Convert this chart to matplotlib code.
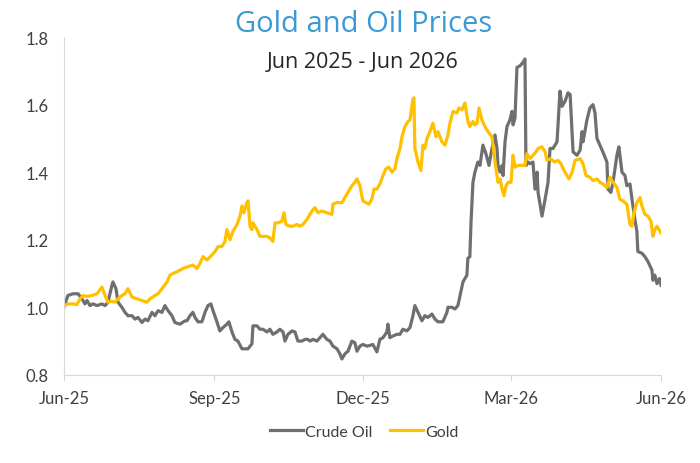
import pandas as pd
import matplotlib
matplotlib.use("Agg")
import matplotlib.pyplot as plt
import matplotlib.dates as mdates

# days after 1 Jun 2025 and index values (start = 1.0)
oil_days = [0, 2.4, 5.5, 8.6, 11.0, 12.8, 14.1, 15.9, 17.7, 20.2, 23.2, 25.1, 26.9,
            29.3, 29.9, 31.8, 33.0, 35.4, 37.3, 39.1, 41.6, 43.4, 45.2, 47.7, 49.5,
            51.3, 53.8, 55.6, 57.5, 59.9, 61.7, 63.6, 66.0, 67.8, 70.9, 74.0, 75.2,
            77.0, 78.8, 80.1, 81.9, 84.3, 86.2, 88.0, 89.8, 91.1, 93.5, 95.3, 97.2,
            99.6, 100.8, 102.7, 104.5, 106.3, 108.8, 110.6, 112.5, 114.9, 115.5,
            118.0, 119.8, 121.6, 124.1, 125.9, 127.7, 130.2, 132.0, 133.9, 135.1,
            136.9, 139.4, 141.2, 143.0, 145.5, 147.3, 149.1, 150.4, 152.2, 154.6,
            156.5, 158.3, 160.7, 162.6, 164.4, 166.9, 168.7, 169.9, 171.7, 173.6,
            176.0, 177.8, 179.1, 180.9, 182.7, 185.2, 187.0, 188.8, 191.3, 193.1,
            195.0, 197.4, 198.0, 199.2, 201.1, 203.5, 205.4, 207.2, 209.6, 211.5,
            213.3, 214.5, 216.4, 218.8, 220.6, 222.5, 224.9, 226.8, 228.6, 231.6,
            234.1, 234.7, 237.1, 239.0, 240.8, 242.6, 243.9, 246.3, 246.9, 248.1,
            248.8, 250.0, 251.2, 253.0, 254.3, 256.1, 257.9, 259.8, 261.6, 263.5,
            264.7, 265.3, 266.6, 267.8, 268.4, 269.6, 270.8, 272.6, 273.9, 274.5,
            275.7, 276.9, 278.8, 280.6, 281.8, 282.4, 283.7, 284.9, 286.7, 287.9,
            289.2, 289.8, 292.2, 294.1, 295.9, 297.1, 298.9, 301.4, 303.2, 304.5,
            306.3, 308.1, 309.4, 311.2, 313.6, 315.5, 316.7, 317.3, 319.7, 321.5,
            323.4, 324.6, 325.8, 327.6, 329.4, 331.9, 332.5, 334.3, 335.6, 338.0,
            339.2, 341.1, 342.9, 344.1, 346.0, 347.2, 349.0, 350.2, 350.8, 353.3,
            355.1, 357.0, 359.4, 360.0, 361.2, 362.5, 364.0, 365.0]
oil = [1.00, 1.035, 1.04, 1.04, 1.025, 1.01, 1.02, 1.005, 1.01, 1.005, 1.01, 1.005, 1.015,
       1.065, 1.075, 1.055, 1.015, 1.0, 0.985, 0.975, 0.975, 0.965, 0.97, 0.955, 0.965,
       0.96, 0.985, 0.975, 0.99, 0.985, 1.005, 0.99, 0.975, 0.955, 0.95, 0.96, 0.96,
       0.975, 0.985, 0.97, 0.957, 0.957, 0.985, 1.005, 1.01, 0.99, 0.957, 0.93, 0.94,
       0.95, 0.957, 0.927, 0.905, 0.90, 0.877, 0.877, 0.877, 0.892, 0.945,
       0.945, 0.935, 0.935, 0.927, 0.935, 0.92, 0.927, 0.935, 0.927, 0.90,
       0.92, 0.93, 0.927, 0.90, 0.90, 0.905, 0.905, 0.90, 0.905, 0.90,
       0.91, 0.92, 0.905, 0.90, 0.885, 0.877, 0.862, 0.847, 0.862, 0.87,
       0.90, 0.895, 0.87, 0.885, 0.89, 0.885, 0.887, 0.89, 0.868, 0.905,
       0.91, 0.927, 0.95, 0.91, 0.915, 0.92, 0.92, 0.935, 0.93, 0.94,
       0.975, 1.005, 0.985, 0.96, 0.975, 0.97, 0.98, 0.965, 0.957, 0.957,
       0.985, 1.00, 1.00, 0.995, 1.005, 1.045, 1.075, 1.095, 1.145, 1.15,
       1.25, 1.37, 1.40, 1.43, 1.42, 1.48, 1.455, 1.42, 1.47, 1.51,
       1.47, 1.42, 1.40, 1.42, 1.39, 1.49, 1.535, 1.555, 1.58, 1.54,
       1.56, 1.71, 1.715, 1.725, 1.735, 1.42, 1.43, 1.425, 1.43, 1.35,
       1.40, 1.34, 1.27, 1.32, 1.37, 1.47, 1.47, 1.49, 1.64, 1.595,
       1.61, 1.635, 1.63, 1.46, 1.45, 1.465, 1.52, 1.49, 1.555, 1.59,
       1.60, 1.575, 1.50, 1.48, 1.46, 1.43, 1.35, 1.34, 1.37, 1.45,
       1.475, 1.40, 1.39, 1.36, 1.365, 1.32, 1.26, 1.225, 1.165, 1.16,
       1.15, 1.135, 1.11, 1.08, 1.095, 1.07, 1.085, 1.065]

gold_days = [0, 0.6, 2.4, 5.5, 7.9, 9.8, 11.6, 14.1, 17.1, 20.2, 23.2, 25.1, 26.9,
             29.3, 31.2, 33.0, 35.4, 37.3, 39.1, 41.6, 44.6, 47.7, 50.7, 52.6, 55.6,
             57.5, 59.9, 63.0, 64.8, 66.6, 69.1, 70.9, 72.7, 75.8, 78.8, 81.3, 83.1,
             85.0, 87.4, 90.5, 92.3, 94.2, 96.6, 98.4, 99.6, 101.5, 103.3, 105.8,
             107.6, 108.8, 110.0, 111.8, 112.5, 113.7, 114.9, 115.5, 118.0, 119.8,
             121.6, 124.1, 125.9, 127.7, 129.0, 130.8, 133.2, 134.5, 135.7, 138.1,
             140.0, 142.4, 144.2, 146.1, 148.5, 151.6, 153.4, 155.2, 157.7, 160.7,
             163.8, 164.4, 166.9, 169.9, 171.7, 173.6, 176.0, 177.8, 179.1, 180.9,
             182.7, 184.6, 186.4, 188.2, 189.5, 191.3, 193.1, 195.0, 196.8, 198.6,
             200.5, 202.3, 203.5, 205.4, 206.6, 208.4, 210.3, 211.5, 213.3, 213.9,
             214.5, 216.4, 218.2, 219.4, 220.6, 221.9, 223.7, 225.5, 227.4, 228.6,
             231.0, 232.9, 234.7, 235.9, 237.8, 240.2, 241.4, 243.3, 245.1, 246.9,
             248.1, 250.0, 251.2, 252.5, 253.7, 255.5, 257.3, 259.2, 261.6, 263.5,
             265.3, 266.6, 267.8, 269.0, 270.2, 271.5, 273.3, 274.5, 275.7, 277.6,
             280.0, 281.8, 283.0, 284.9, 286.7, 288.5, 289.8, 292.2, 294.1, 295.3,
             297.1, 300.1, 302.0, 303.8, 305.7, 307.5, 308.7, 310.6, 312.4, 315.5,
             317.3, 319.1, 321.5, 323.4, 325.8, 327.6, 329.4, 331.9, 333.7, 335.6,
             338.0, 339.8, 341.7, 344.1, 344.7, 346.0, 347.2, 348.4, 350.2, 352.1,
             353.3, 355.1, 357.0, 358.8, 360.0, 361.2, 362.5, 364.3, 365.0]
gold = [1.00, 1.005, 1.01, 1.01, 1.008, 1.025, 1.035, 1.032, 1.035, 1.04, 1.06, 1.035, 1.015,
        1.018, 1.015, 1.025, 1.035, 1.04, 1.055, 1.03, 1.025, 1.02, 1.015, 1.025, 1.035,
        1.04, 1.055, 1.075, 1.095, 1.10, 1.105, 1.11, 1.115, 1.12, 1.125, 1.115, 1.13,
        1.15, 1.14, 1.155, 1.165, 1.18, 1.18, 1.195, 1.23, 1.20, 1.225, 1.245,
        1.27, 1.30, 1.28, 1.31, 1.315, 1.24, 1.23, 1.25, 1.23, 1.21,
        1.21, 1.21, 1.205, 1.195, 1.25, 1.25, 1.255, 1.28, 1.245, 1.24,
        1.24, 1.245, 1.24, 1.245, 1.26, 1.285, 1.295, 1.28, 1.285, 1.28,
        1.275, 1.305, 1.31, 1.31, 1.325, 1.34, 1.36, 1.37, 1.38, 1.36,
        1.315, 1.31, 1.305, 1.32, 1.35, 1.35, 1.365, 1.39, 1.41, 1.415,
        1.40, 1.41, 1.44, 1.47, 1.505, 1.535, 1.55, 1.555, 1.615, 1.62,
        1.47, 1.43, 1.405, 1.48, 1.47, 1.50, 1.52, 1.545, 1.505, 1.52,
        1.49, 1.48, 1.51, 1.545, 1.58, 1.575, 1.59, 1.585, 1.605, 1.55,
        1.535, 1.55, 1.54, 1.545, 1.59, 1.555, 1.535, 1.52, 1.505, 1.43,
        1.37, 1.38, 1.35, 1.33, 1.36, 1.37, 1.37, 1.45, 1.415, 1.42,
        1.42, 1.42, 1.455, 1.44, 1.45, 1.46, 1.47, 1.475, 1.46, 1.435,
        1.44, 1.43, 1.435, 1.425, 1.405, 1.39, 1.38, 1.40, 1.435, 1.44,
        1.425, 1.39, 1.385, 1.375, 1.38, 1.37, 1.365, 1.355, 1.385, 1.37,
        1.355, 1.32, 1.315, 1.305, 1.285, 1.245, 1.24, 1.28, 1.31, 1.325,
        1.30, 1.275, 1.27, 1.255, 1.21, 1.23, 1.24, 1.225, 1.22]

start = pd.Timestamp("2025-06-01")
end = pd.Timestamp("2026-06-01")
oil_dates = start + pd.to_timedelta(oil_days, unit="D")
gold_dates = start + pd.to_timedelta(gold_days, unit="D")

plt.rcParams["font.family"] = ["Lato", "DejaVu Sans"]

fig = plt.figure(figsize=(7, 4.64), dpi=100)
ax = fig.add_axes([0.0914, 0.19, 0.853, 0.728])

ax.plot(oil_dates, oil, color="#6f6f6f", lw=2.3, label="Crude Oil", solid_joinstyle="round")
ax.plot(gold_dates, gold, color="#ffc000", lw=2.3, label="Gold", solid_joinstyle="round")

ax.set_xlim(start, end)
ax.set_ylim(0.8, 1.8)
ax.set_yticks([0.8, 1.0, 1.2, 1.4, 1.6, 1.8])
ax.yaxis.set_major_formatter(plt.FuncFormatter(lambda v, p: f"{v:.1f}"))
ax.set_xticks(pd.to_datetime(["2025-06-01", "2025-09-01", "2025-12-01", "2026-03-01", "2026-06-01"]))
ax.xaxis.set_major_formatter(mdates.DateFormatter("%b-%y"))

ax.spines["top"].set_visible(False)
ax.spines["right"].set_visible(False)
ax.spines["left"].set_color("#d9d9d9")
ax.spines["bottom"].set_color("#d9d9d9")
ax.tick_params(axis="y", length=0, pad=11, labelsize=12, labelcolor="#404040")
ax.tick_params(axis="x", length=4, color="#d9d9d9", pad=7, labelsize=12, labelcolor="#404040")

fig.text(0.52, 0.948, "Gold and Oil Prices", ha="center", va="center",
         fontsize=21, color="#3a9ad3", family=["Open Sans", "DejaVu Sans"])
fig.text(0.518, 0.866, "Jun 2025 - Jun 2026", ha="center", va="center",
         fontsize=15.5, color="#262626", family=["Open Sans", "DejaVu Sans"])

fig.legend(loc="center", bbox_to_anchor=(0.52, 0.067), ncol=2, frameon=False,
           fontsize=11.5, handlelength=2.1, handletextpad=0.1, columnspacing=1.1,
           labelcolor="#404040")

fig.savefig("out.png", dpi=100)
